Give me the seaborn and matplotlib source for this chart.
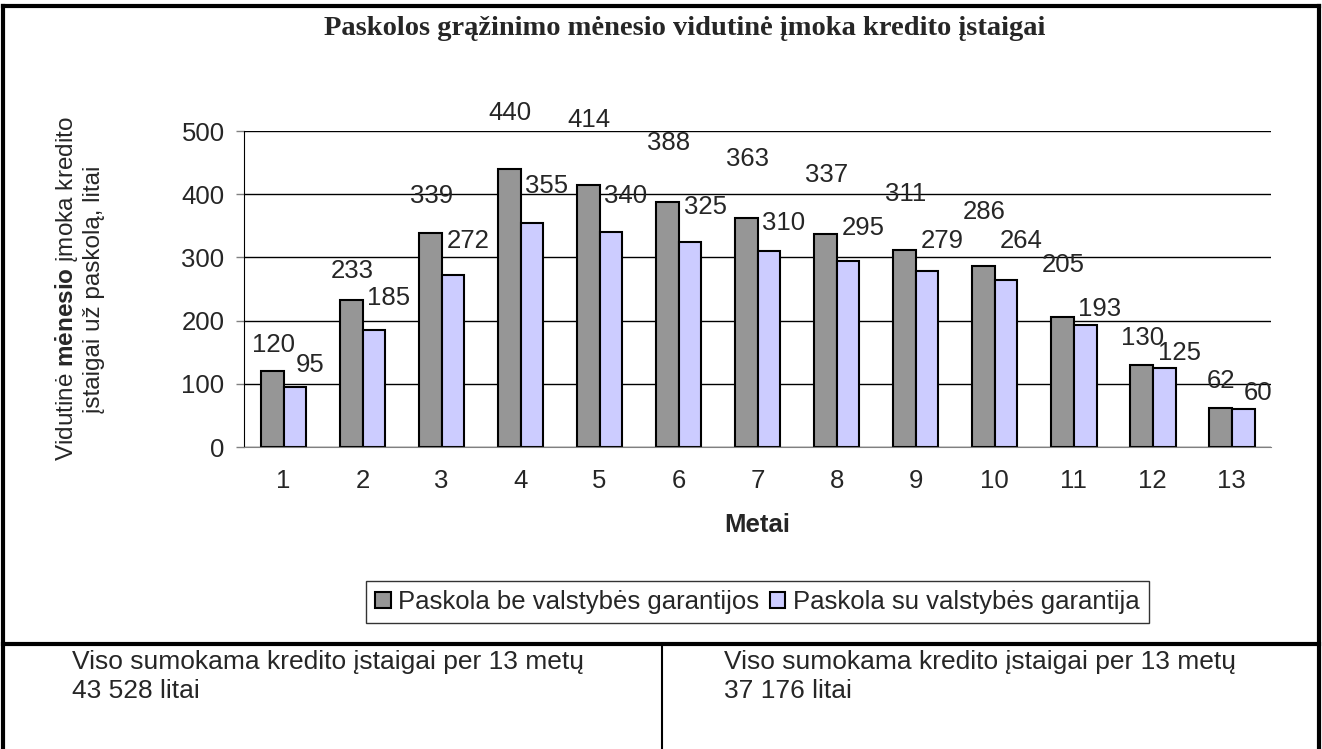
import matplotlib.pyplot as plt
import matplotlib.lines as mlines
import pandas as pd
import seaborn as sns

years = [str(y) for y in range(1, 14)]
be_garantijos = [120, 233, 339, 440, 414, 388, 363, 337, 311, 286, 205, 130, 62]
su_garantija = [95, 185, 272, 355, 340, 325, 310, 295, 279, 264, 193, 125, 60]
series_names = ['Paskola be valstybės garantijos', 'Paskola su valstybės garantija']
total_text = 'Viso sumokama kredito įstaigai per 13 metų'
totals = ['43 528 litai', '37 176 litai']

# how far (px) each value label sits above its bar, as dragged in the original
lift_be = [26, 29, 37, 56, 65, 59, 59, 59, 56, 54, 52, 27, 27]
lift_su = [22, 32, 34, 37, 36, 35, 28, 33, 30, 39, 16, 15, 16]

sns.set_style('white')
plt.rcParams['font.family'] = ['Liberation Sans', 'DejaVu Sans']
plt.rcParams['mathtext.fontset'] = 'custom'
plt.rcParams['mathtext.rm'] = 'Liberation Sans'
plt.rcParams['mathtext.bf'] = 'Liberation Sans:bold'

FS = 18.5
PX = 72 / 100  # points per pixel at dpi 100

df = pd.DataFrame({
    'Metai': years * 2,
    'value': be_garantijos + su_garantija,
    'series': [series_names[0]] * len(years) + [series_names[1]] * len(years),
})

fig = plt.figure(figsize=(13.22, 7.49), dpi=100)
ax = fig.add_axes([0.1846, 0.4032, 0.7769, 0.4219])

sns.barplot(data=df, x='Metai', y='value', hue='series', order=years,
            hue_order=series_names, palette=['#969696', '#CCCCFF'],
            saturation=1, width=0.58, edgecolor='black', linewidth=1.5,
            errorbar=None, ax=ax)

for container, lifts, dx in zip(ax.containers, [lift_be, lift_su], [1, 15]):
    for bar, lift in zip(container, lifts):
        h = bar.get_height()
        ax.annotate(f'{h:.0f}', (bar.get_x() + bar.get_width() / 2, h),
                    xytext=(dx * PX, lift * PX), textcoords='offset points',
                    ha='center', va='center', fontsize=FS)

ax.set_ylim(0, 500)
ax.set_xlim(-0.5, len(years) - 0.5)
ax.set_yticks(range(0, 501, 100))
ax.yaxis.grid(True, color='black', lw=1)
ax.set_axisbelow(True)

ax.set_xticks([i - 0.5 for i in range(len(years) + 1)], minor=True)
ax.tick_params(axis='x', which='major', length=0, labelsize=FS, pad=16)
ax.tick_params(axis='x', which='minor', length=7, width=1, color='#808080', direction='out')
ax.tick_params(axis='y', length=6, width=1, color='#808080', direction='out',
               labelsize=FS, left=True, pad=8)

for s in ['top', 'right']:
    ax.spines[s].set_visible(False)
ax.spines['left'].set_color('black')
ax.spines['bottom'].set_color('#808080')

ax.set_xlabel('Metai', fontsize=FS, fontweight='bold', labelpad=14)
ax.set_ylabel('Vidutinė $\\mathbf{mėnesio}$ įmoka kredito\nįstaigai už paskolą, litai', fontsize=17.5)
ax.yaxis.set_label_coords(-0.135, 0.5)

handles, labels = ax.get_legend_handles_labels()
ax.get_legend().remove()
leg = fig.legend(handles, labels, loc='center', bbox_to_anchor=(0.573, 0.196),
                 ncol=2, fontsize=FS, frameon=True, fancybox=False,
                 handlelength=0.6, handleheight=0.6, handletextpad=0.3,
                 columnspacing=0.4, borderpad=0.35)
leg.get_frame().set_edgecolor('black')
leg.get_frame().set_linewidth(1)

fig.text(0.518, 0.953, 'Paskolos grąžinimo mėnesio vidutinė įmoka kredito įstaigai',
         ha='center', va='baseline', fontsize=20.5, fontweight='bold',
         family=['Liberation Serif', 'DejaVu Serif'])

# outer frame and bottom table
frame = dict(color='black', lw=3, solid_capstyle='projecting')
fig.add_artist(mlines.Line2D([0.002, 0.998], [0.992, 0.992], **frame))
fig.add_artist(mlines.Line2D([0.002, 0.002], [0, 0.992], **frame))
fig.add_artist(mlines.Line2D([0.998, 0.998], [0, 0.992], **frame))
fig.add_artist(mlines.Line2D([0.002, 0.998], [0.140, 0.140], **frame))
fig.add_artist(mlines.Line2D([0.5008, 0.5008], [0, 0.140], color='black', lw=1.5))

for x, total in zip([0.0545, 0.548], totals):
    fig.text(x, 0.1068, total_text, ha='left', va='baseline', fontsize=19)
    fig.text(x, 0.0681, total, ha='left', va='baseline', fontsize=19)

fig.savefig('out.png', dpi=100)
